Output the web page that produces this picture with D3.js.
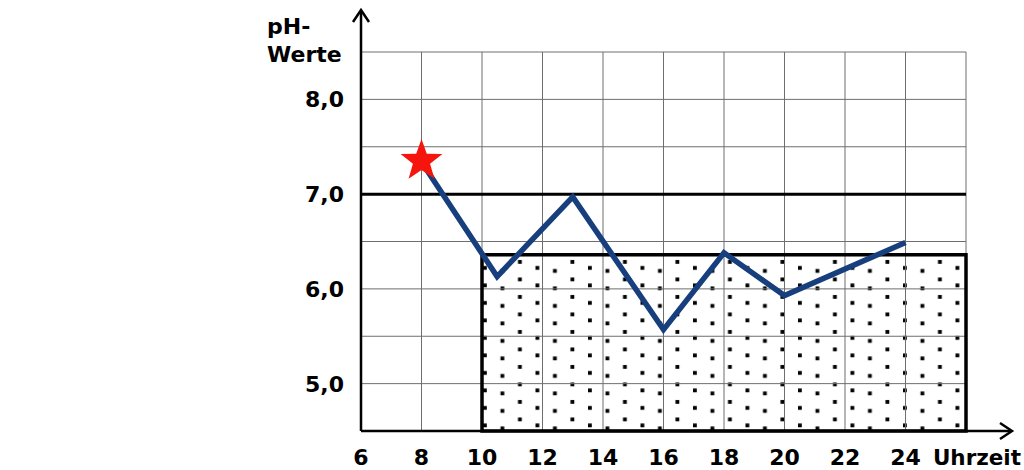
<!DOCTYPE html>
<html><head><meta charset="utf-8">
<script src="https://cdn.jsdelivr.net/npm/d3@7"></script>
<style>html,body{margin:0;padding:0;background:#fff;}svg{display:block;}</style>
</head><body>
<svg id="c" width="1024" height="470"></svg>
<script>
const xTicks = [6, 8, 10, 12, 14, 16, 18, 20, 22, 24];
const yTicks = [5.0, 6.0, 7.0, 8.0];
const hours = [8, 10.5, 13, 16, 18, 20, 24];
const phValues = [7.34, 6.13, 6.97, 5.57, 6.38, 5.93, 6.49];
const zoneHours = [10, 26];
const zonePh = [4.5, 6.36];
const limitPh = 7.0;

const svg = d3.select("#c");
const x = d3.scaleLinear().domain([6, 26]).range([361, 966]);
const y = d3.scaleLinear().domain([4.5, 8.5]).range([431, 52]);
const font = "'DejaVu Sans', Verdana, sans-serif";

// pattern
const defs = svg.append("defs");
const pat = defs.append("pattern").attr("id", "dots").attr("patternUnits", "userSpaceOnUse")
  .attr("x", 482).attr("y", 258).attr("width", 52.5).attr("height", 17.5);
[[1, 8], [18.5, 11], [36, 2]].forEach(([a, b]) => pat.append("rect").attr("x", a).attr("y", b).attr("width", 3.8).attr("height", 3.8).attr("fill", "#000"));

// zone fill
svg.append("rect").attr("x", x(zoneHours[0])).attr("y", y(zonePh[1]))
  .attr("width", x(zoneHours[1]) - x(zoneHours[0])).attr("height", y(zonePh[0]) - y(zonePh[1]))
  .attr("fill", "url(#dots)");

// grid
const gx = d3.range(8, 27, 2);
svg.append("g").selectAll("line").data(gx).join("line")
  .attr("x1", d => x(d)).attr("x2", d => x(d)).attr("y1", y(8.5)).attr("y2", y(4.5))
  .attr("stroke", "#6e6e6e").attr("stroke-width", 1);
const gy = d3.range(5.0, 8.51, 0.5);
svg.append("g").selectAll("line").data(gy).join("line")
  .attr("x1", x(6)).attr("x2", x(26)).attr("y1", d => y(d)).attr("y2", d => y(d))
  .attr("stroke", "#6e6e6e").attr("stroke-width", 1);

// zone border
svg.append("rect").attr("x", x(zoneHours[0])).attr("y", y(zonePh[1]))
  .attr("width", x(zoneHours[1]) - x(zoneHours[0])).attr("height", y(zonePh[0]) - y(zonePh[1]))
  .attr("fill", "none").attr("stroke", "#000").attr("stroke-width", 3.5);

// limit line
svg.append("line").attr("x1", x(6)).attr("x2", x(26)).attr("y1", y(limitPh)).attr("y2", y(limitPh))
  .attr("stroke", "#000").attr("stroke-width", 3);

// axes
svg.append("line").attr("x1", x(6)).attr("x2", 1010).attr("y1", y(4.5)).attr("y2", y(4.5)).attr("stroke", "#000").attr("stroke-width", 2.5);
svg.append("path").attr("d", `M1000,${y(4.5)-8} L1012,${y(4.5)} L1000,${y(4.5)+8}`).attr("fill", "none").attr("stroke", "#000").attr("stroke-width", 2.5);
svg.append("line").attr("x1", x(6)).attr("x2", x(6)).attr("y1", y(4.5)).attr("y2", 12).attr("stroke", "#000").attr("stroke-width", 2.5);
svg.append("path").attr("d", `M${x(6)-8},22 L${x(6)},10 L${x(6)+8},22`).attr("fill", "none").attr("stroke", "#000").attr("stroke-width", 2.5);

// data line
const line = d3.line().x((d, i) => x(hours[i])).y(d => y(d));
svg.append("path").datum(phValues).attr("d", line).attr("fill", "none")
  .attr("stroke", "#173f7d").attr("stroke-width", 5.5).attr("stroke-linejoin", "miter");

// star
const star = [];
for (let i = 0; i < 10; i++) {
  const r = i % 2 === 0 ? 22 : 9;
  const a = -Math.PI / 2 + i * Math.PI / 5;
  star.push([r * Math.cos(a), r * Math.sin(a)]);
}
svg.append("path").attr("d", "M" + star.join("L") + "Z")
  .attr("transform", `translate(${x(hours[0])},${y(phValues[0]) - 1})`)
  .attr("fill", "#f5150c");

// tick labels
svg.append("g").selectAll("text").data(xTicks).join("text")
  .attr("x", d => x(d)).attr("y", 465).attr("text-anchor", "middle")
  .attr("font-family", font).attr("font-weight", "bold").attr("font-size", 22).text(d => d);
svg.append("text").attr("x", 1021).attr("y", 465).attr("text-anchor", "end")
  .attr("font-family", font).attr("font-weight", "bold").attr("font-size", 21.5).text("Uhrzeit");
svg.append("g").selectAll("text").data(yTicks).join("text")
  .attr("x", 344).attr("y", d => y(d) + 8).attr("text-anchor", "end")
  .attr("font-family", font).attr("font-weight", "bold").attr("font-size", 22)
  .text(d => d.toFixed(1).replace(".", ","));
svg.append("text").attr("x", 267).attr("y", 34)
  .attr("font-family", font).attr("font-weight", "bold").attr("font-size", 22).text("pH-");
svg.append("text").attr("x", 267).attr("y", 62)
  .attr("font-family", font).attr("font-weight", "bold").attr("font-size", 22).text("Werte");
</script>
</body></html>
